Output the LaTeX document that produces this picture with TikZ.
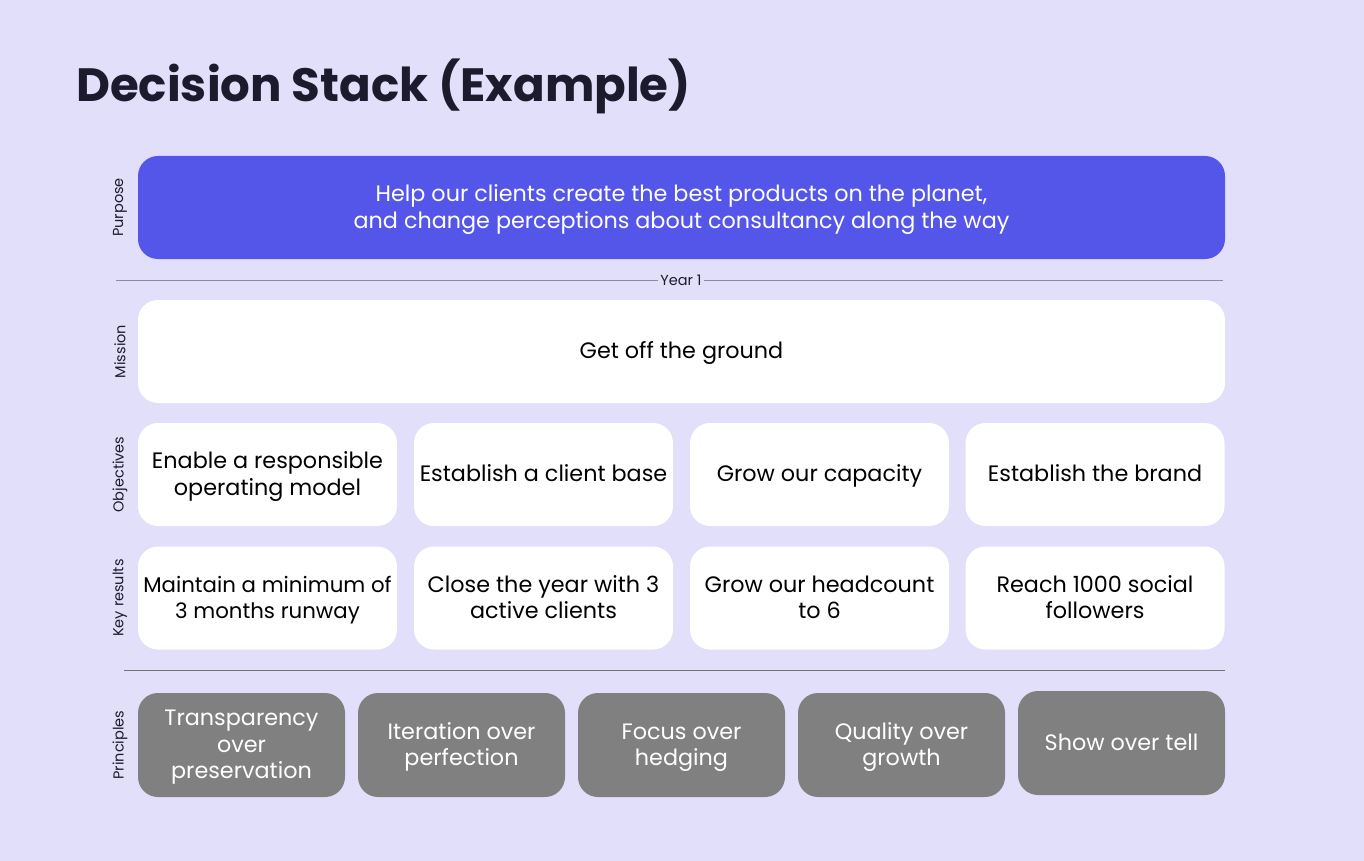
\documentclass[tikz,border=0pt]{standalone}
\usepackage{fontspec}
\setmainfont{Poppins}
\newfontfamily\titlefont[UprightFont=* Bold]{Poppins}
\definecolor{bg}{HTML}{E2DFFB}
\definecolor{purp}{HTML}{5456EA}
\definecolor{princ}{HTML}{808080}
\definecolor{ink}{HTML}{1C1B2E}
\definecolor{rule}{HTML}{8E8C9C}
\newcommand\bt[1]{\raisebox{-2pt}[\height][\depth]{\begin{tabular}{@{}c@{}}#1\end{tabular}}}
\tikzset{
  box/.style={rectangle, rounded corners=20pt, inner sep=0pt, font=\fontsize{22.3}{26.5}\selectfont, text=black},
  whitebox/.style={box, fill=white},
  purpbox/.style={box, fill=purp, text=white, minimum width=1087pt, minimum height=103pt},
  colbox/.style={whitebox, minimum width=259pt, minimum height=103pt},
  prbox/.style={box, fill=princ, text=white, minimum width=207pt, minimum height=104pt},
  sidelabel/.style={rotate=90, font=\fontsize{14.5}{16}\selectfont, text=ink, inner sep=0pt},
}
\begin{document}
\begin{tikzpicture}[x=1pt,y=-1pt]
\fill[bg] (0,0) rectangle (1364,861);
\useasboundingbox (0,0) rectangle (1364,861);
\node[anchor=base west, inner sep=0pt, font=\titlefont\fontsize{46.7}{52}\selectfont, text=ink] (title) at (76,102) {Decision Stack (Example)};
% purpose
\node[purpbox] (purpose) at (681.5,207.5) {\bt{Help our clients create the best products on the planet,\\and change perceptions about consultancy along the way}};
\node[sidelabel] (lpurpose) at (120,207.5) {Purpose};
% year line
\coordinate (yl) at (116,280);
\coordinate (yr) at (1223,280);
\node[inner sep=2pt, font=\fontsize{14.5}{16}\selectfont, text=ink] (year) at (681,280) {Year 1};
\draw[rule, line width=0.8pt] (yl) -- (year.west);
\draw[rule, line width=0.8pt] (year.east) -- (yr);
% mission
\node[whitebox, minimum width=1087pt, minimum height=103pt] (mission) at (681.5,351.5) {\bt{Get off the ground}};
\node[sidelabel] (lmission) at (120,351.5) {Mission};
% objectives
\node[colbox] (o1) at (267.5,474.5) {\bt{Enable a responsible\\operating model}};
\node[colbox] (o2) at (543.5,474.5) {\bt{Establish a client base}};
\node[colbox] (o3) at (819.5,474.5) {\bt{Grow our capacity}};
\node[colbox] (o4) at (1095,474.5) {\bt{Establish the brand}};
\node[sidelabel] (lobj) at (120,474.5) {Objectives};
% key results
\node[colbox, font=\fontsize{21.3}{26.5}\selectfont] (k1) at (267.5,598) {\bt{Maintain a minimum of\\3 months runway}};
\node[colbox] (k2) at (543.5,598) {\bt{Close the year with 3\\active clients}};
\node[colbox] (k3) at (819.5,598) {\bt{Grow our headcount\\to 6}};
\node[colbox] (k4) at (1095,598) {\bt{Reach 1000 social\\followers}};
\node[sidelabel] (lkr) at (120,598) {Key results};
% separator
\coordinate (sl) at (124,670);
\coordinate (sr) at (1225,670);
\draw[princ!90!black, line width=0.8pt] (sl) -- (sr);
% principles
\node[prbox] (p1) at (241.5,745) {\bt{Transparency\\over\\preservation}};
\node[prbox] (p2) at (461.5,745) {\bt{Iteration over\\perfection}};
\node[prbox] (p3) at (681.5,745) {\bt{Focus over\\hedging}};
\node[prbox] (p4) at (901.5,745) {\bt{Quality over\\growth}};
\node[prbox] (p5) at (1121.5,743) {\bt{Show over tell}};
\node[sidelabel] (lpr) at (120,745) {Principles};
\end{tikzpicture}
\end{document}
